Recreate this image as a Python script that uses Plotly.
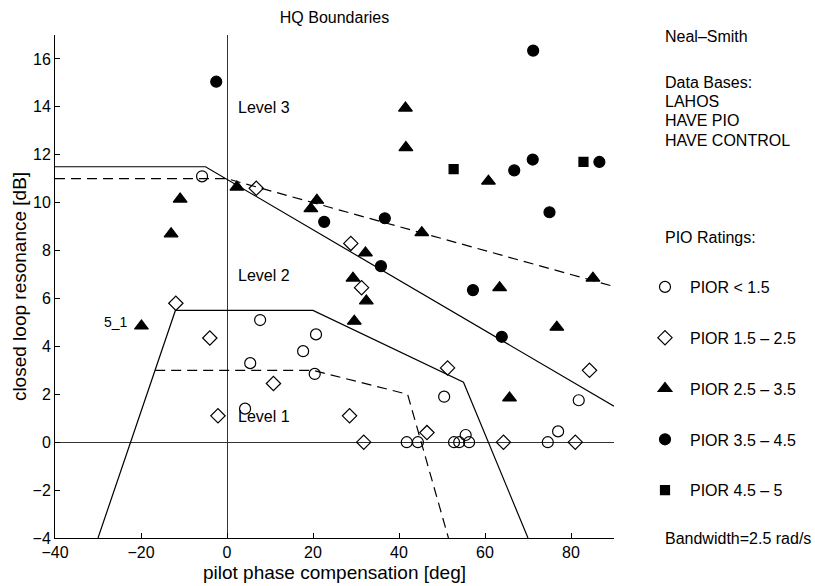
import plotly.graph_objects as go

# ---- data ----
pior_lt15_x = [-5.8, 7.7, 5.4, 4.2, 20.7, 17.7, 20.4, 41.8, 44.4, 50.5, 52.8, 54.0, 55.5, 56.3, 74.6, 77.0, 81.8]
pior_lt15_y = [11.1, 5.1, 3.3, 1.4, 4.5, 3.8, 2.85, 0.0, 0.0, 1.9, 0.0, 0.0, 0.3, 0.0, 0.0, 0.45, 1.75]

pior_15_25_x = [6.8, -11.9, -4.0, 10.8, -2.1, 28.5, 31.8, 46.5, 28.8, 31.3, 51.3, 64.3, 81.0, 84.3]
pior_15_25_y = [10.6, 5.8, 4.35, 2.45, 1.1, 1.1, 0.0, 0.4, 8.3, 6.45, 3.1, 0.0, 0.0, 3.0]

pior_25_35_x = [2.3, -10.9, -13.0, -19.9, 20.9, 19.5, 32.2, 29.3, 32.4, 29.6, 41.6, 41.5, 45.3, 60.8, 63.4, 76.7, 65.7, 85.1]
pior_25_35_y = [10.65, 10.15, 8.7, 4.85, 10.1, 9.75, 7.9, 6.85, 5.9, 5.05, 12.3, 13.95, 8.75, 10.9, 6.45, 4.8, 1.85, 6.85]

pior_35_45_x = [-2.5, 22.6, 36.7, 35.8, 57.2, 63.9, 71.2, 66.8, 71.1, 86.6, 75.0]
pior_35_45_y = [15.05, 9.2, 9.35, 7.35, 6.35, 4.4, 16.35, 11.35, 11.8, 11.7, 9.6]

pior_45_5_x = [52.7, 82.9]
pior_45_5_y = [11.4, 11.7]

# HQ boundaries
l3_solid_x = [-40, -5, 90]
l3_solid_y = [11.5, 11.5, 1.5]
l3_dash_x = [-40, 0, 90]
l3_dash_y = [11, 11, 6.5]
l1_solid_x = [-30, -12, 20, 55, 70]
l1_solid_y = [-4, 5.5, 5.5, 2.5, -4]
l1_dash_x = [-16.7, 20, 42, 51.5]
l1_dash_y = [3, 3, 2, -4]

x_ticks = [-40, -20, 0, 20, 40, 60, 80]
y_ticks = [-4, -2, 0, 2, 4, 6, 8, 10, 12, 14, 16]

FONT = "Liberation Sans, Arial, Helvetica, sans-serif"
FS = 16

fig = go.Figure()

for xs, ys, dash in [(l3_solid_x, l3_solid_y, "solid"), (l3_dash_x, l3_dash_y, "10px,6px"),
                     (l1_solid_x, l1_solid_y, "solid"), (l1_dash_x, l1_dash_y, "10px,6px")]:
    fig.add_trace(go.Scatter(x=xs, y=ys, mode="lines", showlegend=False, hoverinfo="skip",
                             line=dict(color="black", width=1.2, dash=dash)))

series = [
    ("PIOR < 1.5", pior_lt15_x, pior_lt15_y, "circle-open", 11),
    ("PIOR 1.5 \u2013 2.5", pior_15_25_x, pior_15_25_y, "diamond-open", 11),
    ("PIOR 2.5 \u2013 3.5", pior_25_35_x, pior_25_35_y, "triangle-up", 12),
    ("PIOR 3.5 \u2013 4.5", pior_35_45_x, pior_35_45_y, "circle", 11),
    ("PIOR 4.5 \u2013 5", pior_45_5_x, pior_45_5_y, "square", 9),
]
for i, (name, xs, ys, sym, sz) in enumerate(series):
    fig.add_trace(go.Scatter(x=xs, y=ys, mode="markers", name=name, legendgroup=str(i),
                             marker=dict(symbol=sym, size=sz, color="black",
                                         line=dict(color="black", width=1.2))))

annotations = [
    dict(x=2.2, y=13.96, xref="x", yref="y", text="Level 3", xanchor="left"),
    dict(x=2.2, y=6.96, xref="x", yref="y", text="Level 2", xanchor="left"),
    dict(x=2.2, y=1.06, xref="x", yref="y", text="Level 1", xanchor="left"),
    dict(x=-22.5, y=5.0, xref="x", yref="y", text="5_1", xanchor="right", font=dict(size=14)),
]
right_x = (663 - 55) / 559
for txt, py in [("Neal\u2013Smith", 36), ("Data Bases:", 82.5), ("LAHOS", 101.7), ("HAVE PIO", 121),
                ("HAVE CONTROL", 140), ("PIO Ratings:", 237.5), ("Bandwidth=2.5 rad/s", 538)]:
    annotations.append(dict(x=right_x, y=(538 - py) / 503, xref="paper", yref="paper",
                            text=txt, xanchor="left", yanchor="middle"))
for a in annotations:
    a["showarrow"] = False
    a.setdefault("font", {})
    a["font"] = dict(family=FONT, color="black", size=a["font"].get("size", FS))

fig.update_layout(
    width=815, height=586,
    margin=dict(l=55, r=201, t=35, b=48, autoexpand=False),
    paper_bgcolor="white", plot_bgcolor="white",
    font=dict(family=FONT, size=FS, color="black"),
    title=dict(text="HQ Boundaries", x=0.5, xref="paper", y=1 - 17 / 586, yref="container",
               xanchor="center", yanchor="middle", font=dict(size=FS)),
    annotations=annotations,
    showlegend=True,
    legend=dict(x=(640 - 55) / 559, xanchor="left", y=(538 - 270) / 503, yanchor="top",
                tracegroupgap=27, itemwidth=40, bgcolor="rgba(0,0,0,0)", borderwidth=0,
                font=dict(size=FS)),
    xaxis=dict(range=[-40, 90], tickvals=x_ticks, ticks="inside", ticklen=5, tickcolor="black",
               showline=True, linecolor="black", linewidth=1, showgrid=False, automargin=False,
               zeroline=True, zerolinecolor="#333", zerolinewidth=1.2,
               title=dict(text="pilot phase compensation [deg]", standoff=5)),
    yaxis=dict(range=[-4, 17], tickvals=y_ticks, ticks="inside", ticklen=5, tickcolor="black",
               showline=True, linecolor="black", linewidth=1, showgrid=False, automargin=False,
               zeroline=True, zerolinecolor="#333", zerolinewidth=1.2,
               title=dict(text="closed loop resonance [dB]", standoff=0)),
)

fig.write_html("out.html", config={"displayModeBar": False},
               post_script="document.body.style.margin='0';document.body.style.padding='0';")
